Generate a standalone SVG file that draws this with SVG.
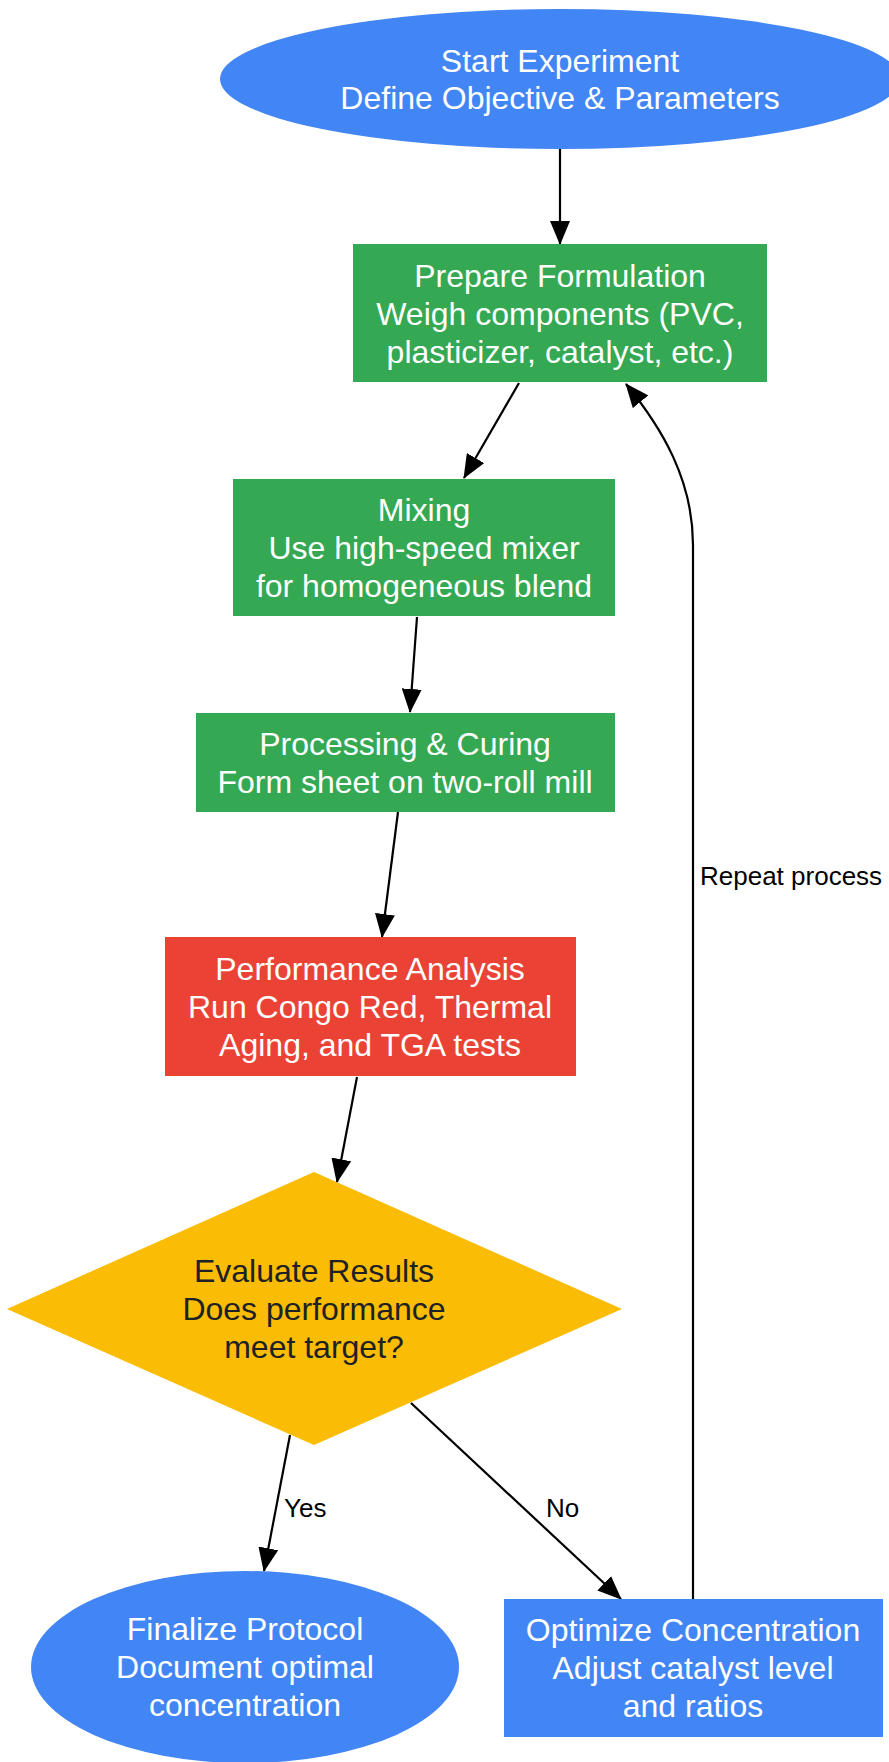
<svg xmlns="http://www.w3.org/2000/svg" width="889" height="1762" viewBox="0 0 889 1762">
<style>
.n{font-family:"Liberation Sans",Arial,sans-serif;font-size:32px;fill:#ffffff;text-anchor:middle}
.d{font-family:"Liberation Sans",Arial,sans-serif;font-size:32px;fill:#202124;text-anchor:middle}
.l{font-family:"Liberation Sans",Arial,sans-serif;font-size:26px;fill:#000000}
.e{fill:none;stroke:#000000;stroke-width:2.2;marker-end:url(#ah)}
.blue{fill:#4285F4}
.green{fill:#34A853}
.red{fill:#EA4335}
.yellow{fill:#FBBC05}
</style>
<defs>
<marker id="ah" viewBox="0 0 24 20" markerWidth="24" markerHeight="20" refX="23" refY="10" orient="auto" markerUnits="userSpaceOnUse">
<path d="M0,0 L24,10 L0,20 z" fill="#000000"/>
</marker>
</defs>
<rect width="889" height="1762" fill="#ffffff"/>
<g id="edges">
<path class="e" d="M560,149 L560,244"/>
<path class="e" d="M519,383 L464,478"/>
<path class="e" d="M417,617 L410,712"/>
<path class="e" d="M398,812 L382,937"/>
<path class="e" d="M357,1077 L337,1182"/>
<path class="e" d="M290,1435 L264,1571"/>
<path class="e" d="M411,1403 L621,1599"/>
<path class="e" d="M693,1599 L693,545 C693,480 662,428 626,384"/>
<text class="l" x="700" y="885">Repeat process</text>
<text class="l" x="284" y="1517">Yes</text>
<text class="l" x="546" y="1517">No</text>
</g>
<g id="start">
<ellipse class="blue" cx="560" cy="79" rx="340" ry="70"/>
<text class="n" x="560" y="72">Start Experiment</text>
<text class="n" x="560" y="109">Define Objective &amp; Parameters</text>
</g>
<g id="prepare">
<rect class="green" x="353" y="244" width="414" height="138"/>
<text class="n" x="560" y="287">Prepare Formulation</text>
<text class="n" x="560" y="325">Weigh components (PVC,</text>
<text class="n" x="560" y="363">plasticizer, catalyst, etc.)</text>
</g>
<g id="mixing">
<rect class="green" x="233" y="479" width="382" height="137"/>
<text class="n" x="424" y="521">Mixing</text>
<text class="n" x="424" y="559">Use high-speed mixer</text>
<text class="n" x="424" y="597">for homogeneous blend</text>
</g>
<g id="processing">
<rect class="green" x="196" y="713" width="419" height="99"/>
<text class="n" x="405" y="755">Processing &amp; Curing</text>
<text class="n" x="405" y="793">Form sheet on two-roll mill</text>
</g>
<g id="analysis">
<rect class="red" x="165" y="937" width="411" height="139"/>
<text class="n" x="370" y="980">Performance Analysis</text>
<text class="n" x="370" y="1018">Run Congo Red, Thermal</text>
<text class="n" x="370" y="1056">Aging, and TGA tests</text>
</g>
<g id="evaluate">
<polygon class="yellow" points="7,1309 314,1172 622,1309 314,1445"/>
<text class="d" x="314" y="1282">Evaluate Results</text>
<text class="d" x="314" y="1320">Does performance</text>
<text class="d" x="314" y="1358">meet target?</text>
</g>
<g id="finalize">
<ellipse class="blue" cx="245" cy="1667" rx="214" ry="96"/>
<text class="n" x="245" y="1640">Finalize Protocol</text>
<text class="n" x="245" y="1678">Document optimal</text>
<text class="n" x="245" y="1716">concentration</text>
</g>
<g id="optimize">
<rect class="blue" x="504" y="1599" width="379" height="138"/>
<text class="n" x="693" y="1641">Optimize Concentration</text>
<text class="n" x="693" y="1679">Adjust catalyst level</text>
<text class="n" x="693" y="1717">and ratios</text>
</g>
</svg>
